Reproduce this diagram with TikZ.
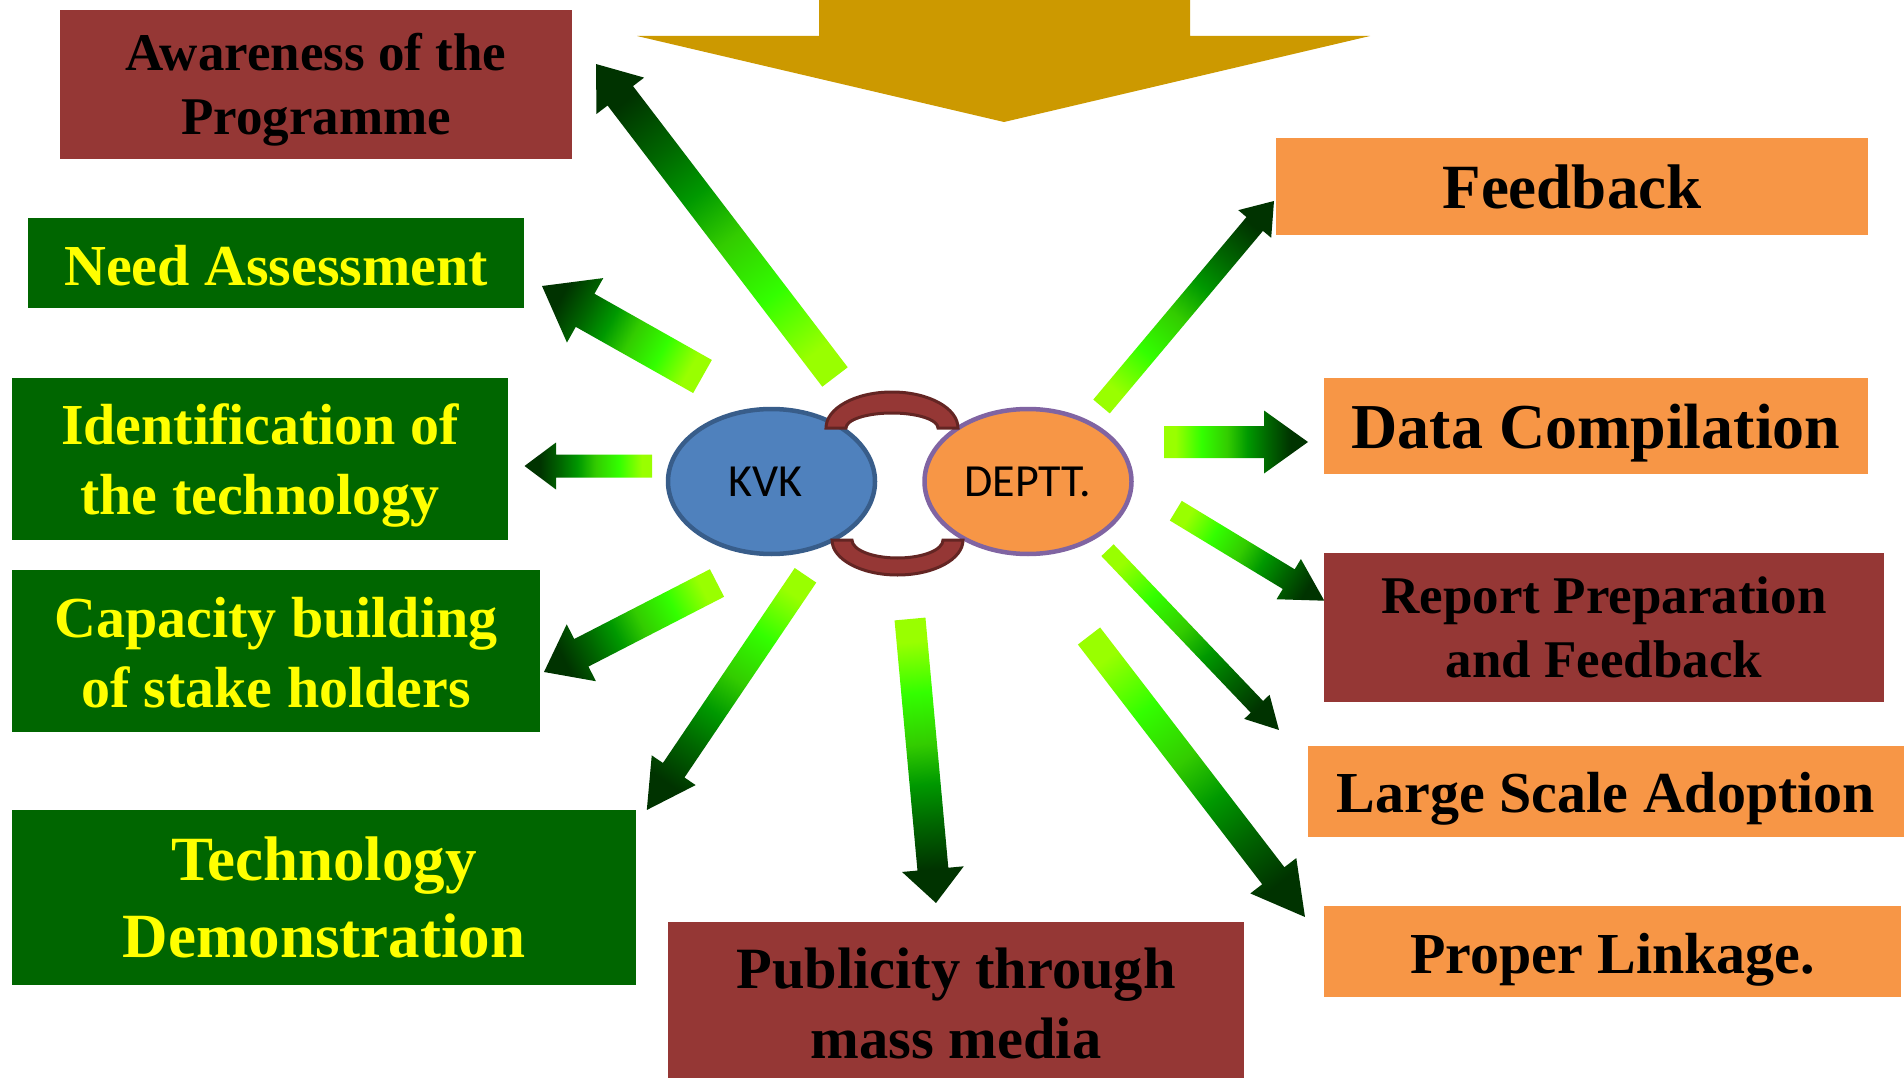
\documentclass[tikz,border=0pt]{standalone}
\usepackage{fontspec}
\setmainfont{Liberation Serif}
\newfontfamily\calfont{Carlito}
\usetikzlibrary{shapes.geometric,calc}
\definecolor{boxred}{HTML}{953735}
\definecolor{boxgreen}{HTML}{006600}
\definecolor{boxorange}{HTML}{F79646}
\definecolor{txtyellow}{HTML}{FFFF00}
\definecolor{gold}{HTML}{CC9900}
\definecolor{kvkfill}{HTML}{4F81BD}
\definecolor{kvkline}{HTML}{385D8A}
\definecolor{deptline}{HTML}{8064A2}
\definecolor{linkline}{HTML}{632523}
\definecolor{gA}{HTML}{99FF00}
\definecolor{gB}{HTML}{33FF00}
\definecolor{gC}{HTML}{33CC00}
\definecolor{gD}{HTML}{009900}
\definecolor{gE}{HTML}{006600}
\definecolor{gF}{HTML}{003300}
\pgfdeclarehorizontalshading{garrowshade}{100bp}{color(0bp)=(gA); color(29bp)=(gA); color(38bp)=(gB); color(47bp)=(gC); color(54bp)=(gD); color(61bp)=(gE); color(69bp)=(gF); color(100bp)=(gF)}
\newcommand\twol[2]{\begin{tabular}[t]{@{}c@{}}#1\\#2\end{tabular}}
% block arrow from named tail coordinate #1 to named tip coordinate #2
% #3 shaft width, #4 head width, #5 head length
\newcommand\garrow[5]{%
  \path (#1); \pgfgetlastxy{\gax}{\gay}%
  \path (#2); \pgfgetlastxy{\gbx}{\gby}%
  \pgfmathsetmacro\gang{atan2(\gby-\gay,\gbx-\gax)}%
  \pgfmathsetmacro\glen{veclen(\gbx-\gax,\gby-\gay)}%
  \begin{scope}[transform canvas={shift={(\gax,\gay)},rotate=\gang}]
    \shade[shading=garrowshade]
      (0,-#3/2) -- (\glen-#5,-#3/2) -- (\glen-#5,-#4/2) -- (\glen,0)
      -- (\glen-#5,#4/2) -- (\glen-#5,#3/2) -- (0,#3/2) -- cycle;
  \end{scope}}
\tikzset{
  box/.style={rectangle, inner sep=0pt, outer sep=0pt},
  redbox/.style={box, fill=boxred, text=black},
  greenbox/.style={box, fill=boxgreen, text=txtyellow},
  orangebox/.style={box, fill=boxorange, text=black},
  oval/.style={ellipse, inner sep=0pt, line width=4.5pt, minimum width=207pt, minimum height=145pt,
    font=\calfont\fontsize{46}{55}\selectfont},
  linkband/.style={fill=boxred, draw=linkline, line width=3pt},
}
\begin{document}
\begin{tikzpicture}[x=1pt,y=-1pt]
\useasboundingbox (0,0) rectangle (1904,1078);
\fill[white] (0,0) rectangle (1904,1078);

% top arrow
\fill[gold] (819,-2) -- (1190,-2) -- (1190,36) -- (1370,36) -- (1004,122) -- (637,36) -- (819,36) -- cycle;

% arrow end points
\coordinate (a1t) at (835,377);    \coordinate (a1h) at (596,64);
\coordinate (a2t) at (702.5,376.5);\coordinate (a2h) at (542,286);
\coordinate (a3t) at (652,466);    \coordinate (a3h) at (524.5,466);
\coordinate (a4t) at (717,583);    \coordinate (a4h) at (544,672);
\coordinate (a5t) at (805.5,575.3);\coordinate (a5h) at (646.8,810);
\coordinate (a6t) at (910,619);    \coordinate (a6h) at (936,903);
\coordinate (a7t) at (1101.5,406.5);\coordinate (a7h) at (1274,201);
\coordinate (a8t) at (1164,442);   \coordinate (a8h) at (1308,442);
\coordinate (a9t) at (1175.8,510.7);\coordinate (a9h) at (1324.3,600.7);
\coordinate (a10t) at (1107.5,550.2);\coordinate (a10h) at (1279,730);
\coordinate (a11t) at (1089,636);  \coordinate (a11h) at (1305,917);

\garrow{a1t}{a1h}{32}{60}{40}
\garrow{a2t}{a2h}{38}{74}{49.5}
\garrow{a3t}{a3h}{23}{47}{31.5}
\garrow{a4t}{a4h}{31}{64}{42}
\garrow{a5t}{a5h}{26}{53}{48}
\garrow{a6t}{a6h}{31}{62}{34}
\garrow{a7t}{a7h}{21.5}{43}{30}
\garrow{a8t}{a8h}{32}{63}{44}
\garrow{a9t}{a9h}{23}{47}{41.6}
\garrow{a10t}{a10h}{17}{35}{32}
\garrow{a11t}{a11h}{28}{58}{52}

% boxes
\node[redbox, minimum width=512pt, minimum height=149pt, text height=0pt, text depth=27pt,
  font=\fontsize{53}{64}\selectfont\bfseries] (aw) at (316,84.5) {\twol{Awareness of the}{Programme}};
\node[greenbox, minimum width=496pt, minimum height=90pt, text height=44pt, text depth=0pt,
  font=\fontsize{58}{70}\selectfont\bfseries] (na) at (276,263) {Need Assessment};
\node[greenbox, minimum width=496pt, minimum height=162pt, text height=0pt, text depth=30pt,
  font=\fontsize{58}{70}\selectfont\bfseries] (id) at (260,459) {\twol{Identification of}{the technology}};
\node[greenbox, minimum width=528pt, minimum height=162pt, text height=0pt, text depth=28pt,
  font=\fontsize{58}{70}\selectfont\bfseries] (cb) at (276,651) {\twol{Capacity building}{of stake holders}};
\node[greenbox, minimum width=624pt, minimum height=175pt, text height=0pt, text depth=35pt,
  font=\fontsize{63}{77}\selectfont\bfseries] (td) at (324,897.5) {\twol{Technology}{Demonstration}};
\node[redbox, minimum width=576pt, minimum height=158pt, text height=0pt, text depth=26pt,
  font=\fontsize{58.5}{70}\selectfont\bfseries] (pu) at (956,1001) {\twol{Publicity through}{mass media}};
\node[orangebox, minimum width=592pt, minimum height=97pt, text height=45pt, text depth=0pt,
  font=\fontsize{63}{76}\selectfont\bfseries] (fb) at (1572,186.5) {Feedback};
\node[orangebox, minimum width=544pt, minimum height=96pt, text height=44pt, text depth=0pt,
  font=\fontsize{64}{77}\selectfont\bfseries] (dc) at (1596,426) {Data Compilation};
\node[redbox, minimum width=560pt, minimum height=149pt, text height=0pt, text depth=29pt,
  font=\fontsize{53}{64}\selectfont\bfseries] (rp) at (1604,627.5) {\twol{Report Preparation}{and Feedback}};
\node[orangebox, minimum width=596pt, minimum height=91pt, text height=41pt, text depth=0pt,
  font=\fontsize{58}{70}\selectfont\bfseries] (ls) at (1606,791.5) {Large Scale Adoption};
\node[orangebox, minimum width=577pt, minimum height=91pt, text height=43pt, text depth=0pt,
  font=\fontsize{58}{70}\selectfont\bfseries] (pl) at (1612.5,951.5) {Proper Linkage.};

% central ovals
\node[oval, fill=kvkfill, draw=kvkline] (kvk) at (771.5,481.5) {\hspace*{-12pt}KVK};
\node[oval, fill=boxorange, draw=deptline] (dep) at (1028,481.5) {DEPTT.};

% linking bands
\filldraw[linkband] (826,428) arc[start angle=180, end angle=0, x radius=66pt, y radius=36pt]
  -- (938,428) arc[start angle=0, end angle=180, x radius=46pt, y radius=15pt] -- cycle;
\filldraw[linkband] (832,540) arc[start angle=180, end angle=360, x radius=65.5pt, y radius=35pt]
  -- (943,540) arc[start angle=360, end angle=180, x radius=45.5pt, y radius=18pt] -- cycle;
\end{tikzpicture}
\end{document}
